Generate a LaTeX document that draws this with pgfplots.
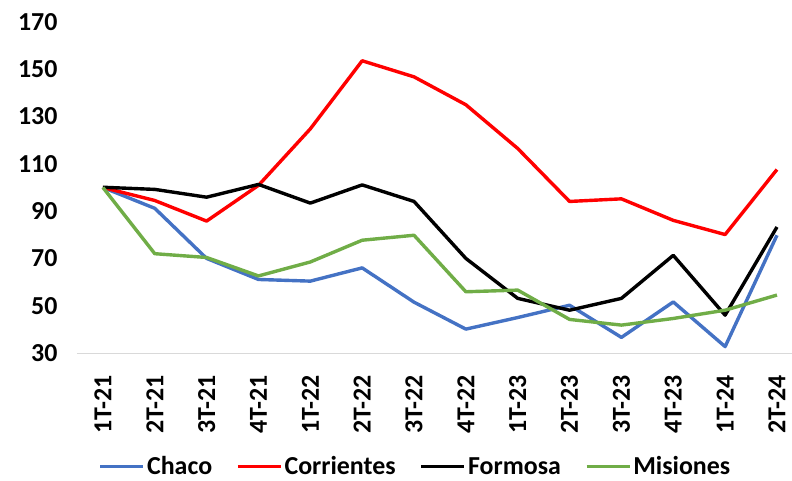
\documentclass[border=0pt]{standalone}
\usepackage{pgfplots}
\pgfplotsset{compat=1.18}
\usepackage{fontspec}
\setmainfont{Carlito}
\definecolor{cblue}{HTML}{4472C4}
\definecolor{cred}{HTML}{FF0000}
\definecolor{cgreen}{HTML}{70AD47}
\definecolor{cgray}{HTML}{D9D9D9}
\begin{document}
\begin{tikzpicture}
\useasboundingbox (-77bp,-128bp) rectangle (715bp,353bp);
\begin{axis}[
  at={(0,0)}, anchor=south west,
  scale only axis, width=715bp, height=331bp,
  xmin=-0.5, xmax=13.29, ymin=30, ymax=170,
  ytick={30,50,...,170},
  xtick={0,...,13},
  xticklabels={1T-21,2T-21,3T-21,4T-21,1T-22,2T-22,3T-22,4T-22,1T-23,2T-23,3T-23,4T-23,1T-24,2T-24},
  axis line style={draw=none},
  major tick length=0pt,
  /pgf/number format/assume math mode=true,
  tick label style={font=\fontsize{26}{30}\selectfont\bfseries},
  yticklabel style={xshift=-16bp},
  xticklabel style={yshift=-19bp, rotate=90, anchor=east},
  legend columns=4,
  legend style={draw=none, fill=none, font=\fontsize{26}{30}\selectfont\bfseries,
    at={(0.4734,-0.343)}, anchor=center,
    /tikz/every even column/.append style={column sep=22bp},
    inner sep=0pt, nodes={inner xsep=2bp, inner ysep=0bp}},
  legend image code/.code={\draw[#1] (0bp,0bp) -- (43bp,0bp);},
  every axis plot/.append style={line width=3.4bp, line join=round},
  clip=false,
]
\draw[cgray, line width=1bp] (axis cs:-0.5,30) -- (axis cs:13.29,30);
\addplot[cblue] coordinates {(0,100)(1,91.2)(2,70)(3,61.1)(4,60.4)(5,66)(6,51.5)(7,40.1)(8,45)(9,50.2)(10,36.6)(11,51.6)(12,32.7)(13,79.8)};
\addlegendentry{Chaco}
\addplot[cred] coordinates {(0,100)(1,94.5)(2,85.8)(3,100.9)(4,124.8)(5,153.6)(6,146.8)(7,135)(8,116.5)(9,94.1)(10,95.2)(11,86.1)(12,80.1)(13,107.6)};
\addlegendentry{Corrientes}
\addplot[black] coordinates {(0,100.1)(1,99.2)(2,95.9)(3,101.3)(4,93.4)(5,101.1)(6,94.1)(7,70)(8,53.1)(9,48.1)(10,53.1)(11,71.3)(12,46)(13,83.3)};
\addlegendentry{Formosa}
\addplot[cgreen] coordinates {(0,100)(1,72)(2,70.4)(3,62.6)(4,68.5)(5,77.7)(6,79.8)(7,55.9)(8,56.6)(9,44.2)(10,41.8)(11,44.6)(12,48.1)(13,54.5)};
\addlegendentry{Misiones}
\end{axis}
\end{tikzpicture}
\end{document}
